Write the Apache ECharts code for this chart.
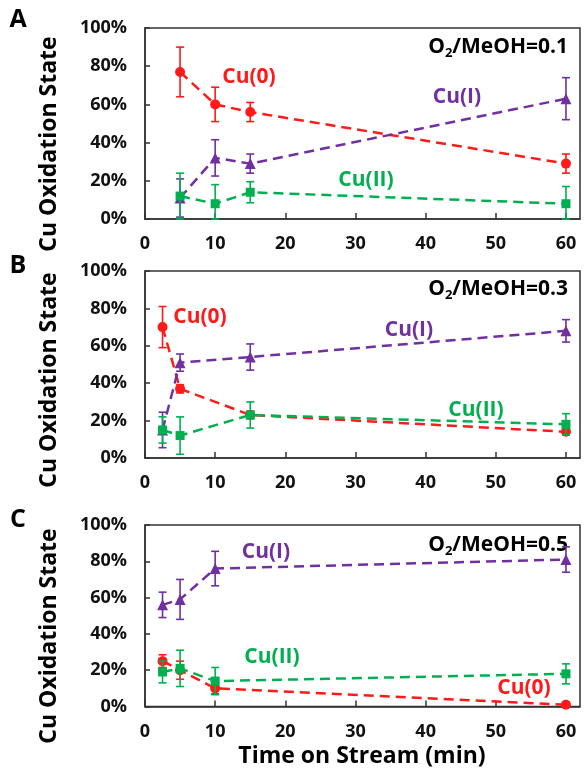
<!DOCTYPE html>
<html>
<head>
<meta charset="utf-8">
<script src="https://cdn.jsdelivr.net/npm/echarts@6/dist/echarts.min.js"></script>
<style>
html,body{margin:0;padding:0;background:#fff;}
#chart{width:585px;height:778px;}
</style>
</head>
<body>
<div id="chart"></div>
<script>
// ---- Data (percent) ----
const xTicks = [0, 10, 20, 30, 40, 50, 60];
const yTicks = [0, 20, 40, 60, 80, 100];

// Panel A: O2/MeOH = 0.1
const timeA = [5, 10, 15, 60];
const cu0A = [77, 60, 56, 29];
const cu0ErrA = [13, 9, 5, 5];
const cu1A = [11, 32, 29, 63];
const cu1ErrA = [10, 9.5, 5, 11];
const cu2A = [12, 8, 14, 8];
const cu2ErrA = [12, 10, 5.5, 9];

// Panel B: O2/MeOH = 0.3
const timeB = [2.5, 5, 15, 60];
const cu0B = [70, 37, 23, 14];
const cu0ErrB = [11, 2.2, 2, 1];
const cu1B = [15, 51, 54, 68];
const cu1ErrB = [9.5, 4.6, 7, 6];
const cu2B = [15, 12, 23, 18];
const cu2ErrB = [7, 10, 7, 5.7];

// Panel C: O2/MeOH = 0.5
const timeC = [2.5, 5, 10, 60];
const cu0C = [25, 20, 10, 1];
const cu0ErrC = [3.5, 5, 3, 1.5];
const cu1C = [56, 59, 76, 81];
const cu1ErrC = [7, 11, 9.5, 7];
const cu2C = [19, 21, 14, 18];
const cu2ErrC = [6, 10, 7.5, 5.5];

const panelLetters = ['A', 'B', 'C'];
const ratioLabels = ['0.1', '0.3', '0.5'];
const seriesNames = ['Cu(0)', 'Cu(I)', 'Cu(II)'];
const yTitle = 'Cu Oxidation State';
const xTitle = 'Time on Stream (min)';

// ---- Styling / layout ----
const FONT = '"Open Sans", "Noto Sans", sans-serif';
const RED = '#ff1a1a', PURPLE = '#7030a0', GREEN = '#00b050';
const colors = [RED, PURPLE, GREEN];
const symbols = ['circle', 'triangle', 'rect'];
const symSizes = [10, 11, 9];

const grids = [
  {left: 145, right: 5, top: 28, height: 191},
  {left: 145, right: 5, top: 271, height: 187},
  {left: 145, right: 5, top: 525, height: 181.5}
];

const panels = [
  {t: timeA, v: [cu0A, cu1A, cu2A], e: [cu0ErrA, cu1ErrA, cu2ErrA]},
  {t: timeB, v: [cu0B, cu1B, cu2B], e: [cu0ErrB, cu1ErrB, cu2ErrB]},
  {t: timeC, v: [cu0C, cu1C, cu2C], e: [cu0ErrC, cu1ErrC, cu2ErrC]}
];

const xAxes = [], yAxes = [], series = [];
panels.forEach((p, i) => {
  xAxes.push({
    type: 'value', gridIndex: i, min: xTicks[0], max: 62, interval: 10,
    axisLine: {show: true, onZero: false, lineStyle: {color: '#333', width: 1.5}},
    axisTick: {show: true, inside: true, length: 6, lineStyle: {color: '#333', width: 1.5}},
    axisLabel: {show: true, margin: 16, showMaxLabel: false, color: '#111', fontFamily: FONT, fontWeight: 'bold', fontSize: 18,
      formatter: v => xTicks.indexOf(v) >= 0 ? String(v) : ''},
    splitLine: {show: false}
  });
  yAxes.push({
    type: 'value', gridIndex: i, min: yTicks[0], max: yTicks[yTicks.length - 1], interval: 20,
    axisLine: {show: true, lineStyle: {color: '#333', width: 1.5}},
    axisTick: {show: true, inside: true, length: 5, lineStyle: {color: '#333', width: 1.5}},
    axisLabel: {show: true, margin: 18, color: '#111', fontFamily: FONT, fontWeight: 'bold', fontSize: 18, formatter: '{value}%'},
    splitLine: {show: false}
  });
  for (let s = 0; s < 3; s++) {
    const errData = p.t.map((x, k) => [x, p.v[s][k], p.e[s][k]]);
    series.push({
      type: 'custom', xAxisIndex: i, yAxisIndex: i, z: 3 + s * 2, silent: true,
      data: errData,
      renderItem: (params, api) => {
        const x = api.value(0), v = api.value(1), e = api.value(2);
        const top = api.coord([x, Math.min(100, v + e)]);
        const bot = api.coord([x, Math.max(0, v - e)]);
        const cw = 4;
        const st = {stroke: colors[s], lineWidth: 1.6};
        return {type: 'group', children: [
          {type: 'line', shape: {x1: top[0], y1: top[1], x2: bot[0], y2: bot[1]}, style: st},
          {type: 'line', shape: {x1: top[0] - cw, y1: top[1], x2: top[0] + cw, y2: top[1]}, style: st},
          {type: 'line', shape: {x1: bot[0] - cw, y1: bot[1], x2: bot[0] + cw, y2: bot[1]}, style: st}
        ]};
      }
    });
    series.push({
      type: 'line', name: seriesNames[s], xAxisIndex: i, yAxisIndex: i, z: 4 + s * 2,
      data: p.t.map((x, k) => [x, p.v[s][k]]),
      symbol: symbols[s], symbolSize: symSizes[s], showSymbol: true,
      itemStyle: {color: colors[s], opacity: 1},
      lineStyle: {color: colors[s], width: 2.5, type: [10, 6]},
      animation: false
    });
  }
});

// ---- Annotations ----
const graphics = [];
const letterY = [20, 266, 520];
const yTitleCenter = [144, 380, 636];
const ratioY = [47, 289, 545];
panels.forEach((p, i) => {
  graphics.push({type: 'text', x: 18, y: letterY[i],
    style: {text: panelLetters[i], font: 'bold 25px ' + FONT, fill: '#000', align: 'center', verticalAlign: 'middle'}});
  graphics.push({type: 'text', x: 49, y: yTitleCenter[i], rotation: Math.PI / 2,
    style: {text: yTitle, font: 'bold 23px ' + FONT, fill: '#000', align: 'center', verticalAlign: 'middle'}});
  graphics.push({type: 'text', x: 568, y: ratioY[i],
    style: {text: '{a|O}{s|2}{a|/MeOH=' + ratioLabels[i] + '}', align: 'right', verticalAlign: 'middle',
      rich: {a: {font: 'bold 21px ' + FONT, fill: '#000', lineHeight: 26},
             s: {font: 'bold 13px ' + FONT, fill: '#000', padding: [12, 0, 0, 0], lineHeight: 26}}}});
});
const labelPos = [
  [[249, 77], [457, 97], [366, 180]],
  [[200, 317], [409, 330], [476, 410]],
  [[524, 688], [266, 552], [272, 657]]
];
labelPos.forEach((pl, i) => {
  pl.forEach((pos, s) => {
    graphics.push({type: 'text', x: pos[0], y: pos[1],
      style: {text: seriesNames[s], font: 'bold 21px ' + FONT, fill: colors[s], align: 'center', verticalAlign: 'middle'}});
  });
});
graphics.push({type: 'text', x: 362, y: 756,
  style: {text: xTitle, font: 'bold 23px ' + FONT, fill: '#000', align: 'center', verticalAlign: 'middle'}});

const chart = echarts.init(document.getElementById('chart'), null, {renderer: 'canvas'});
chart.setOption({
  animation: false,
  backgroundColor: '#fff',
  grid: grids.map(g => Object.assign({show: true, borderColor: '#333', borderWidth: 1.5, backgroundColor: 'transparent'}, g)),
  xAxis: xAxes,
  yAxis: yAxes,
  series: series,
  graphic: graphics
});
</script>
</body>
</html>
